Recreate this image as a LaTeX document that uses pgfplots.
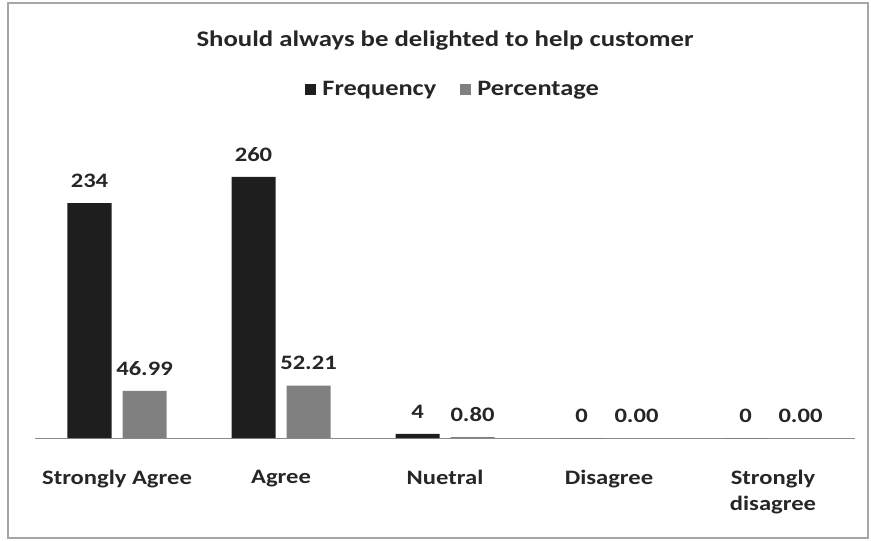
\documentclass[border=0pt]{standalone}
\usepackage{pgfplots}
\pgfplotsset{compat=1.18}
\usepackage{fontspec}
\setmainfont{Carlito}[FakeStretch=1.2]
\definecolor{barA}{HTML}{1E1E1E}
\definecolor{barB}{HTML}{808080}
\definecolor{txt}{HTML}{262626}
\begin{document}
\begin{tikzpicture}[x=1pt,y=1pt]
\useasboundingbox (-35,-103) rectangle (836,438);
\draw[draw=black!35, line width=1.5pt] (-27,-100) rectangle (833,435);
\begin{axis}[
  at={(0,0)}, anchor=south west,
  scale only axis, width=820pt, height=261pt,
  xmin=-0.5, xmax=4.5, ymin=0, ymax=260,
  ybar, bar width=44pt, ybar=11pt,
  clip=false,
  axis x line*=bottom, axis y line=none,
  x axis line style={draw=black!45, line width=0.8pt, -},
  xtick={0,1,2,3,4},
  xticklabels={Strongly Agree, Agree, Nuetral, Disagree, {Strongly\\disagree}},
  major tick length=0pt,
  xticklabel style={font=\bfseries\fontsize{20.5}{26}\selectfont, text=txt, align=center, anchor=north, yshift=-29pt},
  /pgf/number format/assume math mode=true,
  title={Should always be delighted to help customer},
  title style={at={(0.5,1.498)}, anchor=center, font=\bfseries\fontsize{22.3}{26}\selectfont, text=txt},
  legend columns=2,
  legend style={at={(0.51,1.337)}, anchor=center, draw=none, fill=none,
    font=\bfseries\fontsize{22}{24}\selectfont, text=txt,
    /tikz/every even column/.append style={column sep=22pt}},
  legend image code/.code={\fill[#1] (0pt,-5.5pt) rectangle (11pt,5.5pt); \path (15pt,0pt);},
  nodes near coords,
  every node near coord/.append style={font=\bfseries\fontsize{20.5}{24}\selectfont, text=txt, anchor=south, yshift=12pt},
]
\addplot[fill=barA, draw=none] coordinates {(0,234) (1,260) (2,4) (3,0) (4,0)};
\addplot[fill=barB, draw=none,
  nodes near coords={\pgfmathprintnumber[fixed,fixed zerofill,precision=2]{\pgfplotspointmeta}}]
  coordinates {(0,46.99) (1,52.21) (2,0.80) (3,0) (4,0)};
\legend{Frequency, Percentage}
\end{axis}
\end{tikzpicture}
\end{document}
